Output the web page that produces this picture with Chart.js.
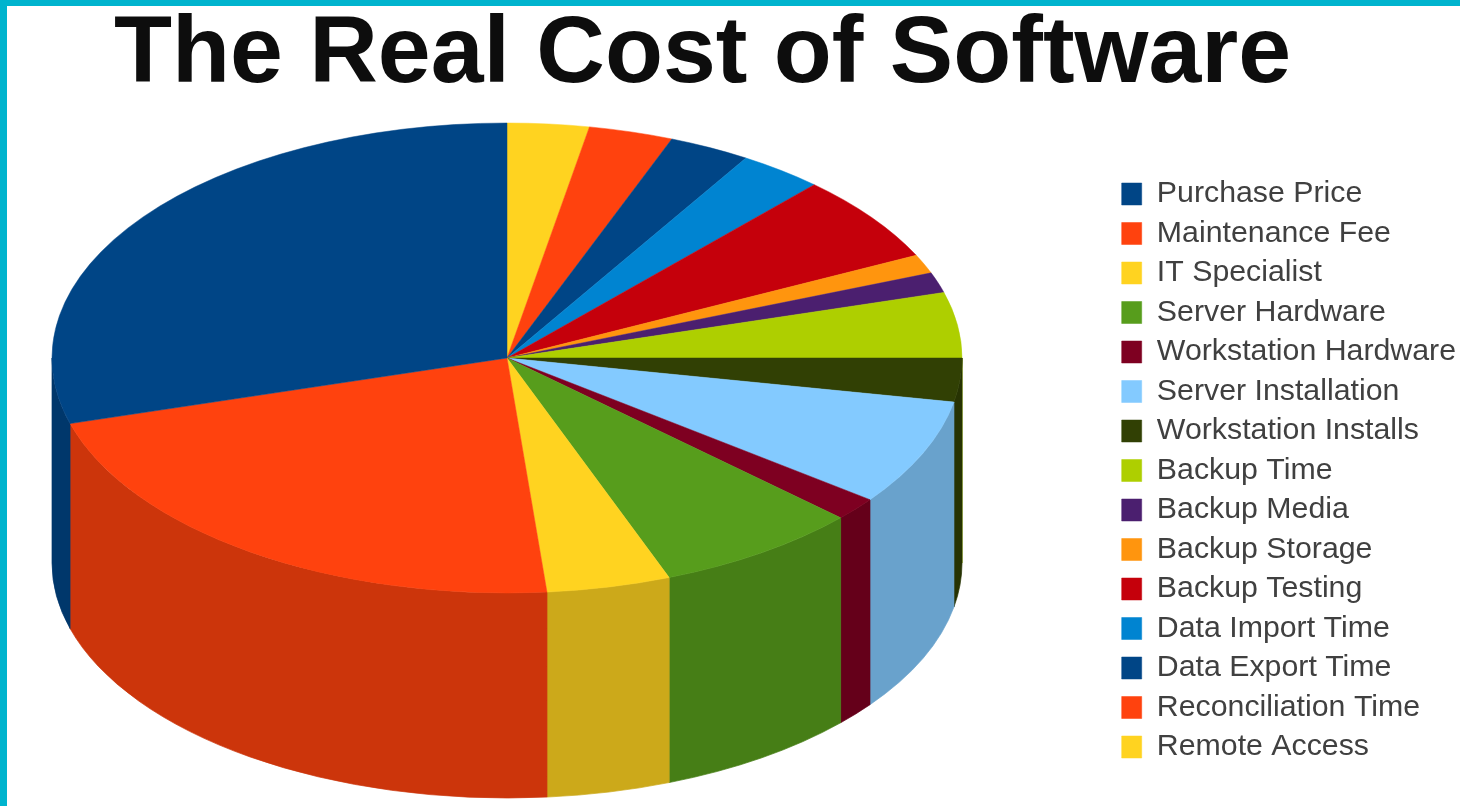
<!DOCTYPE html>
<html>
<head>
<meta charset="utf-8">
<title>The Real Cost of Software</title>
<script src="https://cdn.jsdelivr.net/npm/chart.js@4"></script>
<style>
    html, body { margin: 0; padding: 0; background: #fff; }
    body {
        width: 1460px; height: 806px; box-sizing: border-box; overflow: hidden;
        border-top: 6px solid #00B4CE; border-left: 7px solid #00B4CE;
    }
    #wrap { position: relative; width: 1453px; height: 800px; }
</style>
</head>
<body>
<div id="wrap"><canvas id="cost-chart"></canvas></div>
<script>
// Listed in drawing order (clockwise from 12 o'clock); the legend shows it reversed
const categories = [
    'Remote Access', 'Reconciliation Time', 'Data Export Time', 'Data Import Time',
    'Backup Testing', 'Backup Storage', 'Backup Media', 'Backup Time',
    'Workstation Installs', 'Server Installation', 'Workstation Hardware',
    'Server Hardware', 'IT Specialist', 'Maintenance Fee', 'Purchase Price'
];
const costShare = [2.9, 3.0, 2.9, 3.0, 6.0, 1.3, 1.4, 4.5, 3.0, 7.3, 1.6, 7.3, 4.4, 21.9, 29.5];
const sliceColors = [
    '#ffd320', '#ff420e', '#004586', '#0084d1', '#c5000b', '#ff950e', '#4b1f6f', '#aecf00',
    '#314004', '#83caff', '#7e0021', '#579d1c', '#ffd320', '#ff420e', '#004586'
];

// Wall colour of a slice: 80% of its top colour
function darken(hex) {
    const n = parseInt(hex.slice(1), 16);
    const c = [n >> 16, (n >> 8) & 255, n & 255].map(v => Math.round(v * 0.8));
    return `rgb(${c[0]}, ${c[1]}, ${c[2]})`;
}

// Squashes the pie into an ellipse and extrudes the front half downwards
const tiltedPie = {
    id: 'tiltedPie',
    afterLayout(chart, args, opts) {
        chart.titleBlock.left -= opts.titleShift;
        chart.titleBlock.right -= opts.titleShift;
        chart.legend.left += opts.legendShiftX;
        chart.legend.top += opts.legendShiftY;
        chart.legend.bottom += opts.legendShiftY;
    },
    beforeDatasetsDraw(chart, args, opts) {
        const ctx = chart.ctx;
        chart.getDatasetMeta(0).data.forEach((arc, i) => {
            const start = Math.max(arc.startAngle, 0);
            const end = Math.min(arc.endAngle, Math.PI);
            if (end <= start) return;
            const wall = darken(sliceColors[i]);
            ctx.save();
            ctx.fillStyle = wall;
            ctx.strokeStyle = wall;
            ctx.lineWidth = 0.7;
            ctx.beginPath();
            ctx.ellipse(opts.cx, opts.cy, opts.rx, opts.ry, 0, start, end);
            ctx.ellipse(opts.cx, opts.cy + opts.depth, opts.rx, opts.ry, 0, end, start, true);
            ctx.closePath();
            ctx.fill();
            ctx.stroke();
            ctx.restore();
        });
    },
    beforeDatasetDraw(chart, args, opts) {
        const ctx = chart.ctx;
        const arc = chart.getDatasetMeta(0).data[0];
        ctx.save();
        ctx.translate(opts.cx, opts.cy);
        ctx.scale(opts.rx / arc.outerRadius, opts.ry / arc.outerRadius);
        ctx.translate(-arc.x, -arc.y);
    },
    afterDatasetDraw(chart) {
        chart.ctx.restore();
    }
};

new Chart(document.getElementById('cost-chart'), {
    type: 'pie',
    data: {
        labels: categories,
        datasets: [{
            data: costShare,
            backgroundColor: sliceColors,
            borderColor: sliceColors,
            borderWidth: 0.5,
            clip: false
        }]
    },
    plugins: [tiltedPie],
    options: {
        responsive: true,
        maintainAspectRatio: false,
        animation: false,
        events: [],
        plugins: {
            tiltedPie: {
                cx: 500, cy: 352, rx: 455, ry: 235, depth: 205,
                titleShift: 31, legendShiftX: 6, legendShiftY: 64.5
            },
            title: {
                display: true,
                text: 'The Real Cost of Software',
                color: '#0d0d0d',
                font: { family: 'Liberation Sans', size: 95, weight: 'bold', lineHeight: 1 },
                padding: { top: 2, bottom: 8 }
            },
            legend: {
                position: 'right',
                reverse: true,
                labels: {
                    color: '#404040',
                    boxWidth: 20,
                    boxHeight: 22,
                    padding: 9.2,
                    font: { family: 'Liberation Sans', size: 30.3 }
                }
            },
            tooltip: { enabled: false }
        }
    }
});
</script>
</body>
</html>
